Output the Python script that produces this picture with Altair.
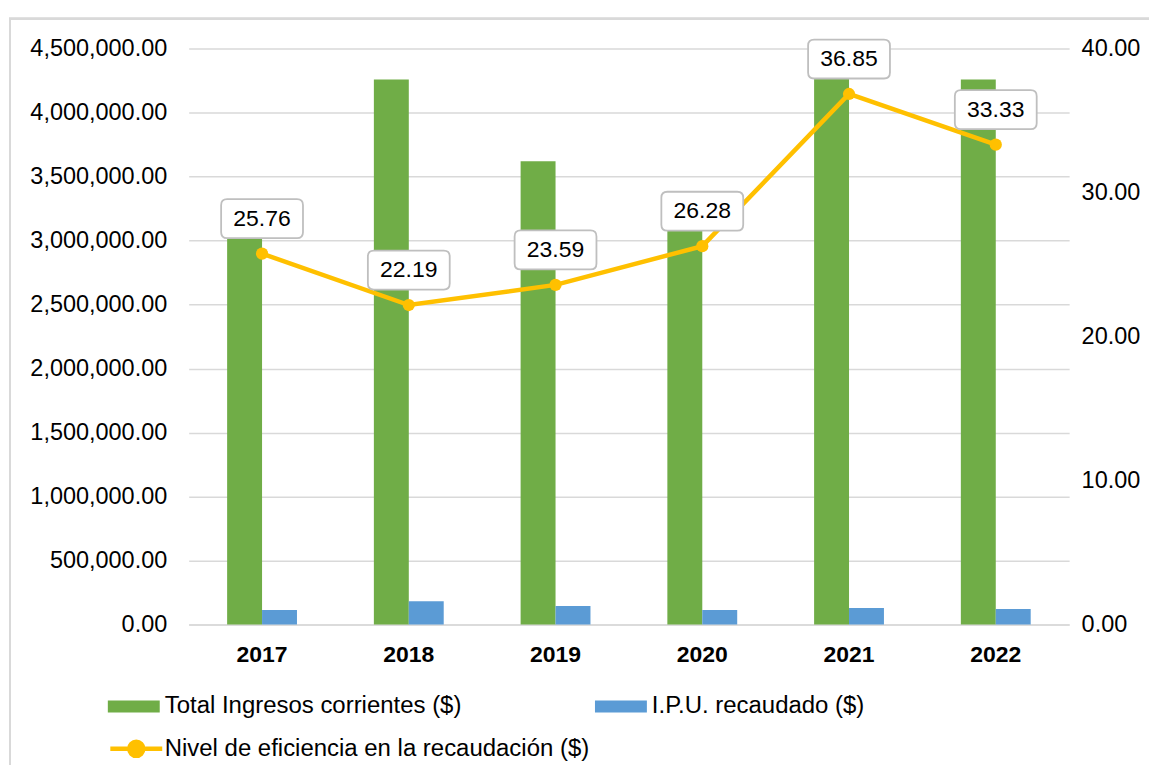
import altair as alt
import pandas as pd

years = ["2017", "2018", "2019", "2020", "2021", "2022"]
total_ingresos = [3030000, 4258000, 3620000, 3080000, 4300000, 4258000]
ipu_recaudado = [114000, 183000, 145000, 114000, 129000, 121000]
eficiencia = [25.76, 22.19, 23.59, 26.28, 36.85, 33.33]

s_total = "Total Ingresos corrientes ($)"
s_ipu = "I.P.U. recaudado ($)"
s_efic = "Nivel de eficiencia en la recaudación ($)"

FONT = "Liberation Sans"
GREEN = "#70AD47"
BLUE = "#5B9BD5"
YELLOW = "#FFC000"
GRID = "#D9D9D9"

bars_df = pd.DataFrame(
    {"year": years * 2,
     "serie": [s_total] * len(years) + [s_ipu] * len(years),
     "valor": total_ingresos + ipu_recaudado}
)
line_df = pd.DataFrame({"year": years, "serie": [s_efic] * len(years), "efic": eficiencia})

x_enc = alt.X("year:N", title=None,
              scale=alt.Scale(paddingInner=0.524, paddingOuter=0.262),
              axis=alt.Axis(labelAngle=0, labelFont=FONT, labelFontSize=23, labelFontWeight="bold",
                            labelColor="#000000", ticks=False, domain=True, domainColor=GRID,
                            domainWidth=1.5, labelPadding=19, grid=False))

frame = alt.Chart(line_df).mark_rect(fillOpacity=0, stroke=GRID, strokeWidth=2).encode(
    x=alt.value(-179), x2=alt.value(1300), y=alt.value(-30), y2=alt.value(900)
)

bar_path = "M-1,-0.23H1V0.23H-1Z"
bars = alt.Chart(bars_df).mark_bar().encode(
    x=x_enc,
    xOffset=alt.XOffset("serie:N", sort=[s_total, s_ipu], scale=alt.Scale(paddingInner=0, paddingOuter=0)),
    y=alt.Y("valor:Q", title=None,
            scale=alt.Scale(domain=[0, 4500000], nice=False),
            axis=alt.Axis(orient="left", values=list(range(0, 4500001, 500000)), format=",.2f",
                          labelFont=FONT, labelFontSize=23.5, labelColor="#000000", ticks=False,
                          domain=False, grid=True, gridColor=GRID, gridWidth=1.5, labelPadding=22)),
    color=alt.Color("serie:N", sort=[s_total, s_ipu],
                    scale=alt.Scale(domain=[s_total, s_ipu], range=[GREEN, BLUE]),
                    legend=alt.Legend(title=None, orient="none", legendX=-81, legendY=633,
                                      direction="horizontal", columns=2, columnPadding=133,
                                      symbolType=bar_path, symbolSize=2704, symbolStrokeWidth=0,
                                      labelFont=FONT, labelFontSize=24, labelColor="#000000",
                                      labelOffset=5, padding=0, labelLimit=600)),
)

y2_enc = alt.Y("efic:Q", title=None,
               scale=alt.Scale(domain=[0, 40], nice=False),
               axis=alt.Axis(orient="right", values=[0, 10, 20, 30, 40], format=".2f",
                             labelFont=FONT, labelFontSize=23.5, labelColor="#000000", ticks=False,
                             domain=False, grid=False, labelPadding=12))

line_path = "M-1,0L1,0M0.27,0A0.27,0.27 0 1 1 -0.27,0A0.27,0.27 0 1 1 0.27,0Z"
line = alt.Chart(line_df).mark_line(strokeWidth=4.5).encode(
    x=alt.X("year:N"),
    y=y2_enc,
    color=alt.Color("serie:N", scale=alt.Scale(domain=[s_efic], range=[YELLOW]),
                    legend=alt.Legend(title=None, orient="none", legendX=-81, legendY=673,
                                      symbolType=line_path, symbolSize=2704, symbolStrokeWidth=4.5,
                                      symbolFillColor=YELLOW, symbolStrokeColor=YELLOW,
                                      labelFont=FONT, labelFontSize=24, labelColor="#000000",
                                      labelOffset=0, padding=0, labelLimit=600)),
)
points = alt.Chart(line_df).mark_point(filled=True, size=150, opacity=1, color=YELLOW).encode(
    x=alt.X("year:N"), y=alt.Y("efic:Q")
)
box_path = ("M-0.854,-0.476L0.854,-0.476Q1,-0.476 1,-0.33L1,0.33Q1,0.476 0.854,0.476"
            "L-0.854,0.476Q-1,0.476 -1,0.33L-1,-0.33Q-1,-0.476 -0.854,-0.476Z")
boxes = alt.Chart(line_df).mark_point(shape=box_path, size=6724, filled=True, fill="#FFFFFF",
                                      stroke="#BFBFBF", strokeWidth=1.8, opacity=1, yOffset=-35).encode(
    x=alt.X("year:N"), y=alt.Y("efic:Q")
)
labels = alt.Chart(line_df).mark_text(font=FONT, fontSize=23, color="#000000", yOffset=-35,
                                      baseline="middle", align="center").encode(
    x=alt.X("year:N"), y=alt.Y("efic:Q"), text=alt.Text("efic:Q", format=".2f")
)

line_group = alt.layer(line, points, boxes, labels)

chart = alt.layer(frame, bars, line_group).resolve_scale(
    y="independent", color="independent"
).properties(
    width=882, height=577,
    autosize=alt.AutoSizeParams(type="none"),
    padding={"left": 181, "top": 40, "right": 80, "bottom": 140},
).configure_view(strokeWidth=0)

chart.save("out.html", embed_options={"renderer": "svg", "actions": False})
